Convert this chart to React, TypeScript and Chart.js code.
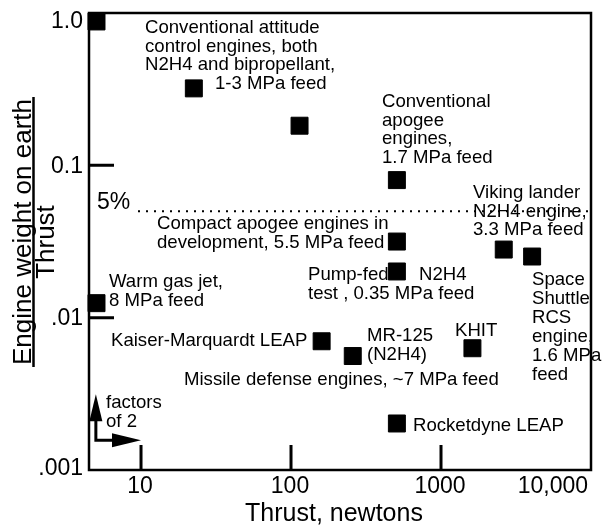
import React, { useEffect, useRef } from "react";
import { Chart, registerables } from "chart.js";

Chart.register(...registerables);

// ---- data ----
const engineNames = [
  "Small ACS thruster",
  "Conventional attitude control",
  "Conventional attitude control (large)",
  "Conventional apogee engine",
  "Compact apogee engine",
  "Pump-fed N2H4 test",
  "Viking lander N2H4 engine",
  "Space Shuttle RCS engine",
  "KHIT",
  "Warm gas jet",
  "Kaiser-Marquardt LEAP",
  "MR-125 (N2H4)",
  "Rocketdyne LEAP",
];
const thrustNewtons = [5.05, 22.5, 114, 508, 508, 508, 2620, 4050, 1620, 5.05, 160, 258, 508];
const weightToThrust = [0.88, 0.32, 0.182, 0.08, 0.0316, 0.0201, 0.028, 0.0252, 0.0063, 0.01245, 0.007, 0.0056, 0.00202];

const xTickValues = [10, 100, 1000, 10000];
const xTickLabels = ["10", "100", "1000", "10,000"];
const yTickValues = [1, 0.1, 0.01, 0.001];
const yTickLabels = ["1.0", "0.1", ".01", ".001"];
const xRange = [4.5, 10000];
const yRange = [0.001, 1];
const referenceRatio = 0.05;
const referenceLabel = "5%";
const factorOrigin = [5, 0.00157];
const factor = 2;

const xTitle = "Thrust, newtons";
const yTitleTop = "Engine weight on earth";
const yTitleBottom = "Thrust";

// ---- layout / styles ----
const FONT = "'Liberation Sans', Arial, Helvetica, sans-serif";
const NOTE_SIZE = 18.6;
const LINE_H = 18.5;
const TICK_SIZE = 23;
const TITLE_SIZE = 25;
const YTITLE_SIZE = 26;

const NOTES: { x: number; y: number; lines: string[]; lh?: number }[] = [
  { x: 145, y: 33, lines: ["Conventional attitude", "control engines, both", "N2H4 and bipropellant,"] },
  { x: 215, y: 89, lines: ["1-3 MPa feed"] },
  { x: 382, y: 107, lines: ["Conventional", "apogee", "engines,", "1.7 MPa feed"] },
  { x: 157, y: 229, lines: ["Compact apogee engines in", "development, 5.5 MPa feed"] },
  { x: 109, y: 287, lines: ["Warm gas jet,", "8 MPa feed"] },
  { x: 308, y: 280, lines: ["Pump-fed", "test , 0.35 MPa feed"] },
  { x: 419, y: 280, lines: ["N2H4"] },
  { x: 473, y: 198, lines: ["Viking lander", "N2H4 engine,", "3.3 MPa feed"] },
  { x: 532, y: 285, lines: ["Space", "Shuttle", "RCS", "engine,", "1.6 MPa", "feed"], lh: 19 },
  { x: 455, y: 336, lines: ["KHIT"] },
  { x: 111, y: 346, lines: ["Kaiser-Marquardt LEAP"] },
  { x: 367, y: 341, lines: ["MR-125", "(N2H4)"] },
  { x: 184, y: 385, lines: ["Missile defense engines, ~7 MPa feed"] },
  { x: 106, y: 408, lines: ["factors", "of 2"] },
  { x: 413, y: 431, lines: ["Rocketdyne LEAP"] },
];

const decor = {
  id: "decor",
  afterDraw(chart: any) {
    const { ctx, chartArea: a } = chart;
    const xs = chart.scales.x;
    const ys = chart.scales.y;
    ctx.save();
    ctx.fillStyle = "#000";
    ctx.strokeStyle = "#000";

    // frame
    ctx.lineWidth = 2.5;
    ctx.strokeRect(a.left, a.top, a.right - a.left, a.bottom - a.top);

    // inward tick marks
    ctx.lineWidth = 3;
    ctx.beginPath();
    xTickValues.forEach((v) => {
      const px = xs.getPixelForValue(v);
      if (px > a.left + 2 && px < a.right - 2) {
        ctx.moveTo(px, a.bottom);
        ctx.lineTo(px, a.bottom - 25);
      }
    });
    yTickValues.forEach((v) => {
      const py = ys.getPixelForValue(v);
      if (py > a.top + 2 && py < a.bottom - 2) {
        ctx.moveTo(a.left, py);
        ctx.lineTo(a.left + 25, py);
      }
    });
    ctx.stroke();

    // tick labels
    ctx.font = `${TICK_SIZE}px ${FONT}`;
    ctx.textBaseline = "middle";
    xTickValues.forEach((v, i) => {
      const px = xs.getPixelForValue(v);
      const last = i === xTickValues.length - 1;
      ctx.textAlign = last ? "right" : "center";
      ctx.fillText(xTickLabels[i], last ? px - 3 : px - 1, a.bottom + 17);
    });
    ctx.textAlign = "right";
    yTickValues.forEach((v, i) => {
      const py = ys.getPixelForValue(v);
      const ty = Math.min(Math.max(py + 1, a.top + 9), a.bottom - 1);
      ctx.fillText(yTickLabels[i], a.left - 6, ty);
    });

    // reference dotted line (5%)
    const ry = ys.getPixelForValue(referenceRatio);
    ctx.save();
    ctx.lineWidth = 2;
    ctx.setLineDash([2, 6]);
    ctx.beginPath();
    ctx.moveTo(138, ry);
    ctx.lineTo(a.right, ry);
    ctx.stroke();
    ctx.restore();
    ctx.textAlign = "left";
    ctx.textBaseline = "alphabetic";
    ctx.font = `${TICK_SIZE}px ${FONT}`;
    ctx.fillText(referenceLabel, 97, ry - 2);

    // factor-of-2 arrows
    const ox = xs.getPixelForValue(factorOrigin[0]);
    const oy = ys.getPixelForValue(factorOrigin[1]);
    const hx = xs.getPixelForValue(factorOrigin[0] * factor);
    const vy = ys.getPixelForValue(factorOrigin[1] * factor);
    ctx.lineWidth = 3;
    ctx.beginPath();
    ctx.moveTo(ox, oy);
    ctx.lineTo(hx - 28, oy);
    ctx.moveTo(ox, oy + 1.5);
    ctx.lineTo(ox, vy + 26);
    ctx.stroke();
    ctx.beginPath();
    ctx.moveTo(hx, oy);
    ctx.lineTo(hx - 29, oy - 7);
    ctx.lineTo(hx - 29, oy + 7);
    ctx.closePath();
    ctx.fill();
    ctx.beginPath();
    ctx.moveTo(ox, vy);
    ctx.lineTo(ox - 6.5, vy + 27);
    ctx.lineTo(ox + 6.5, vy + 27);
    ctx.closePath();
    ctx.fill();

    // annotations
    ctx.font = `${NOTE_SIZE}px ${FONT}`;
    ctx.textAlign = "left";
    ctx.textBaseline = "alphabetic";
    NOTES.forEach((n) => {
      n.lines.forEach((t, i) => ctx.fillText(t, n.x, n.y + i * (n.lh ?? LINE_H)));
    });

    // x title
    ctx.font = `${TITLE_SIZE}px ${FONT}`;
    ctx.textAlign = "center";
    ctx.textBaseline = "alphabetic";
    ctx.fillText(xTitle, (a.left + a.right) / 2 - 6, 521);

    // y title as fraction
    ctx.font = `${YTITLE_SIZE}px ${FONT}`;
    ctx.save();
    ctx.translate(31, 232);
    ctx.rotate(-Math.PI / 2);
    ctx.fillText(yTitleTop, 0, 0);
    ctx.restore();
    ctx.lineWidth = 2.5;
    ctx.beginPath();
    ctx.moveTo(33.5, 97);
    ctx.lineTo(33.5, 367);
    ctx.stroke();
    ctx.save();
    ctx.translate(54, 242);
    ctx.rotate(-Math.PI / 2);
    ctx.fillText(yTitleBottom, 0, 0);
    ctx.restore();

    ctx.restore();
  },
};

export default function App() {
  const ref = useRef<HTMLCanvasElement>(null);
  useEffect(() => {
    const chart = new Chart(ref.current as HTMLCanvasElement, {
      type: "scatter",
      data: {
        datasets: [
          {
            label: "Engines",
            data: thrustNewtons.map((x, i) => ({ x, y: weightToThrust[i], name: engineNames[i] })) as any,
            pointStyle: "rect",
            pointRadius: 12,
            pointHoverRadius: 12,
            backgroundColor: "#000",
            borderColor: "#000",
            borderWidth: 1,
            clip: false as any,
          },
        ],
      },
      options: {
        responsive: false,
        animation: false,
        events: [],
        layout: { padding: { left: 89, top: 10, right: 4, bottom: 59 } },
        plugins: { legend: { display: false }, tooltip: { enabled: false } },
        scales: {
          x: { type: "logarithmic", min: xRange[0], max: xRange[1], display: false },
          y: { type: "logarithmic", min: yRange[0], max: yRange[1], display: false },
        },
      },
      plugins: [decor],
    });
    return () => chart.destroy();
  }, []);
  return (
    <div style={{ position: "absolute", left: 0, top: 0, width: 604, height: 529, background: "#fff" }}>
      <canvas ref={ref} width={604} height={529} style={{ display: "block", width: 604, height: 529 }} />
    </div>
  );
}
